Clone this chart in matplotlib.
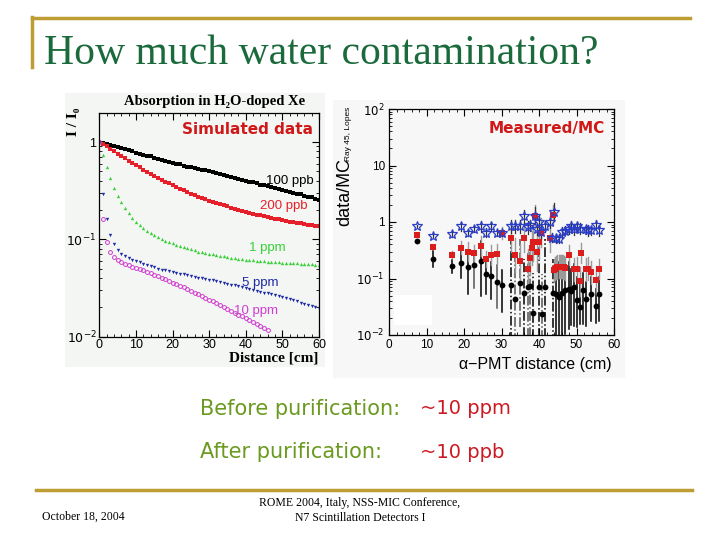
import matplotlib
matplotlib.use("Agg")
import matplotlib.pyplot as plt
from matplotlib.patches import Rectangle
from matplotlib.lines import Line2D
from matplotlib.ticker import FixedLocator, FixedFormatter, MultipleLocator, LogLocator, NullFormatter

# ---------------- data: left panel (simulated absorption) ----------------
dist_cm = list(range(0, 61))
ppb100 = [1.00, 0.98, 0.96, 0.94, 0.92, 0.89, 0.87, 0.85, 0.82, 0.80, 0.78, 0.76, 0.74, 0.72, 0.71,
          0.69, 0.67, 0.66, 0.64, 0.63, 0.61, 0.60, 0.59, 0.57, 0.56, 0.55, 0.54, 0.53, 0.52, 0.51,
          0.50, 0.49, 0.48, 0.47, 0.46, 0.45, 0.44, 0.43, 0.42, 0.41, 0.40, 0.39, 0.385, 0.375, 0.365,
          0.36, 0.35, 0.345, 0.34, 0.33, 0.325, 0.315, 0.31, 0.30, 0.295, 0.29, 0.28, 0.275, 0.27, 0.26, 0.255]
ppb200 = [1.00, 0.95, 0.90, 0.85, 0.80, 0.76, 0.72, 0.68, 0.64, 0.61, 0.58, 0.55, 0.52, 0.495, 0.47,
          0.45, 0.43, 0.41, 0.39, 0.375, 0.36, 0.345, 0.33, 0.32, 0.305, 0.295, 0.285, 0.275, 0.265, 0.257,
          0.25, 0.243, 0.236, 0.23, 0.224, 0.218, 0.212, 0.207, 0.202, 0.197, 0.192, 0.188, 0.184, 0.18, 0.176,
          0.172, 0.169, 0.166, 0.163, 0.16, 0.157, 0.155, 0.152, 0.15, 0.148, 0.146, 0.144, 0.142, 0.14, 0.138, 0.136]
ppm1 = [1.00, 0.73, 0.55, 0.43, 0.34, 0.28, 0.24, 0.21, 0.185, 0.165, 0.15, 0.14, 0.13, 0.122, 0.116,
        0.11, 0.105, 0.101, 0.097, 0.094, 0.091, 0.088, 0.085, 0.083, 0.081, 0.079, 0.077, 0.075, 0.074, 0.072,
        0.071, 0.070, 0.069, 0.068, 0.067, 0.066, 0.065, 0.064, 0.063, 0.0625, 0.062, 0.0615, 0.061, 0.0605, 0.060,
        0.0596, 0.0592, 0.0588, 0.0584, 0.058, 0.0577, 0.0574, 0.0571, 0.0568, 0.0565, 0.0562, 0.0559, 0.0556, 0.0553, 0.055, 0.0548]
ppm5 = [1.00, 0.29, 0.16, 0.11, 0.09, 0.078, 0.071, 0.067, 0.064, 0.062, 0.060, 0.058, 0.056, 0.054, 0.053,
        0.052, 0.050, 0.049, 0.048, 0.047, 0.046, 0.0452, 0.0444, 0.0436, 0.0428, 0.042, 0.0412, 0.0405, 0.0398, 0.0391,
        0.0385, 0.0378, 0.0371, 0.0364, 0.0357, 0.035, 0.0343, 0.0336, 0.033, 0.0323, 0.0316, 0.031, 0.0303, 0.0297, 0.029,
        0.0284, 0.0278, 0.0272, 0.0266, 0.026, 0.0254, 0.0248, 0.0242, 0.0236, 0.023, 0.0224, 0.0218, 0.0213, 0.0208, 0.0203, 0.0198]
dist10 = list(range(0, 47))
ppm10 = [1.00, 0.16, 0.095, 0.075, 0.066, 0.061, 0.058, 0.056, 0.054, 0.052, 0.051, 0.0495, 0.048, 0.0465, 0.045,
         0.0435, 0.042, 0.0405, 0.039, 0.0375, 0.036, 0.0347, 0.0334, 0.0321, 0.0308, 0.0296, 0.0284, 0.0273, 0.0262, 0.0251,
         0.024, 0.023, 0.022, 0.0211, 0.0202, 0.0193, 0.0185, 0.0177, 0.0169, 0.0162, 0.0155, 0.0148, 0.0141, 0.0135, 0.0129,
         0.0123, 0.0118]
curve_labels = ["100 ppb", "200 ppb", "1 ppm", "5 ppm", "10 ppm"]

# ---------------- data: right panel (measured / MC) ----------------
star_x = [7.5, 11.6, 16.9, 19.1, 21.0, 22.7, 24.4, 25.8, 27.2, 28.7, 30.2, 32.6, 33.7, 34.9, 36.0, 37.1, 37.7,
          38.9, 39.4, 40.0, 40.5, 41.6, 42.9, 43.5, 44.0, 44.6, 45.3, 46.0, 47.0, 48.0, 48.6, 49.3, 50.0, 51.0,
          52.4, 53.0, 53.9, 55.3, 56.0]
star_y = [0.86, 0.57, 0.62, 0.84, 0.64, 0.75, 0.84, 0.64, 0.84, 0.64, 0.64, 0.84, 0.84, 0.84, 1.26, 0.80, 0.88,
          1.30, 0.75, 0.98, 0.66, 0.84, 1.00, 0.53, 1.50, 0.52, 0.51, 0.66, 0.70, 0.75, 0.84, 0.75, 0.84, 0.76,
          0.74, 0.71, 0.72, 0.90, 0.72]
star_err = [1.05, 1.08, 1.12, 1.2, 1.15, 1.15, 1.25, 1.2, 1.2, 1.15, 1.15, 1.3, 1.3, 1.3, 1.3, 1.3, 1.25,
            1.4, 1.3, 1.3, 1.3, 1.25, 1.3, 1.2, 1.45, 1.2, 1.2, 1.25, 1.2, 1.2, 1.25, 1.25, 1.2, 1.25,
            1.2, 1.25, 1.2, 1.2, 1.25]

sq_x = [7.5, 11.6, 16.9, 19.1, 21.0, 22.7, 24.4, 25.8, 27.2, 28.7, 30.2, 32.6, 33.7, 34.9, 36.0, 37.1, 37.7,
        38.0, 38.4, 38.9, 39.4, 40.0, 40.5, 42.9, 43.7, 44.0, 44.3, 44.6, 44.9, 45.2, 45.5, 45.8, 46.1, 46.4,
        46.7, 47.0, 48.0, 49.3, 50.0, 51.0, 51.2, 52.4, 53.0, 53.9, 55.3, 56.0]
sq_y = [0.59, 0.36, 0.265, 0.35, 0.30, 0.28, 0.37, 0.22, 0.26, 0.27, 0.64, 0.53, 0.26, 0.20, 0.53, 0.15, 0.23,
        0.35, 0.44, 1.26, 0.30, 0.44, 0.65, 0.53, 1.33, 0.14, 0.15, 0.155, 0.16, 0.162, 0.163, 0.163, 0.162, 0.16,
        0.157, 0.153, 0.26, 0.146, 0.15, 0.09, 0.28, 0.146, 0.15, 0.13, 0.094, 0.15]
sq_err = [1.05, 1.1, 1.15, 1.3, 1.5, 1.4, 1.5, 1.4, 1.5, 1.5, 1.3, 1.8, 2.0, 2.0, 1.8, 2.2, 2.0,
          2.0, 2.2, 1.6, 2.2, 2.0, 1.8, 1.8, 1.5, 1.6, 1.6, 1.6, 1.6, 1.6, 1.6, 1.6, 1.6, 1.6,
          1.6, 1.6, 1.5, 1.6, 1.6, 1.8, 1.5, 1.6, 1.6, 1.6, 1.8, 1.5]

dot_x = [7.5, 11.6, 16.9, 19.1, 21.0, 22.7, 24.4, 25.8, 27.2, 28.7, 30.2, 32.6, 33.7, 34.9, 36.0, 37.1, 37.7,
         38.4, 40.0, 40.7, 41.6, 43.8, 44.6, 45.3, 46.0, 47.0, 48.0, 48.6, 49.3, 50.0, 51.0, 51.6, 52.4, 53.9,
         55.3, 56.0]
dot_y = [0.46, 0.22, 0.166, 0.185, 0.16, 0.17, 0.20, 0.118, 0.11, 0.085, 0.078, 0.078, 0.044, 0.083, 0.055, 0.071,
         0.075, 0.025, 0.071, 0.024, 0.071, 0.055, 0.053, 0.048, 0.055, 0.063, 0.065, 0.060, 0.072, 0.042, 0.031,
         0.063, 0.044, 0.053, 0.032, 0.053]
dot_lo = [1.05, 1.4, 1.3, 1.8, 3.0, 2.5, 4.0, 2.2, 2.5, 2.8, 3.0, 20.0, 6.0, 6.0, 6.0, 8.0, 8.0,
          3.0, 8.0, 3.0, 8.0, 8.0, 6.0, 6.0, 8.0, 6.0, 5.0, 4.0, 5.0, 3.0, 2.0, 4.0, 3.0, 3.0,
          2.0, 3.0]
dot_hi = [1.05, 1.4, 1.3, 1.9, 1.6, 1.8, 2.3, 1.7, 1.8, 2.0, 1.8, 6.0, 6.0, 6.0, 4.0, 4.0, 4.0,
          5.0, 7.0, 5.0, 7.0, 4.0, 4.0, 4.0, 3.5, 3.0, 3.0, 2.5, 2.5, 2.5, 3.0, 2.0, 2.0, 2.0,
          2.0, 2.0]

# ---------------- figure ----------------
W, H = 720, 540
fig = plt.figure(figsize=(7.2, 5.4), dpi=100)
fig.patch.set_facecolor("white")

def P(x, y):
    return x / W, 1 - y / H

GOLD = "#bf9d35"
SERIF = ["Liberation Serif", "DejaVu Serif"]
SANS = ["Liberation Sans", "DejaVu Sans"]

# decorative slide lines
fig.add_artist(Line2D([32 / W, 690 / W], [1 - 18 / H, 1 - 18 / H], color=GOLD, lw=2.5))
fig.add_artist(Line2D([32 / W, 32 / W], [1 - 17 / H, 1 - 67 / H], color=GOLD, lw=2.5))
fig.add_artist(Line2D([36 / W, 692 / W], [1 - 490 / H, 1 - 490 / H], color=GOLD, lw=2.5))

fig.text(*P(44, 64), "How much water contamination?", family=SERIF, fontsize=30,
         color="#1b6a3c", va="baseline", ha="left")

# image backgrounds
fig.add_artist(Rectangle(P(65, 367), 260 / W, 274 / H, transform=fig.transFigure,
                         facecolor="#f3f6f3", edgecolor="none", zorder=0))
fig.add_artist(Rectangle(P(333, 378), 292 / W, 278 / H, transform=fig.transFigure,
                         facecolor="#f7f7f7", edgecolor="none", zorder=0))

# ---------------- left axes ----------------
axL = fig.add_axes([99.3 / W, 1 - 336.7 / H, (319 - 99.3) / W, (336.7 - 112.7) / H])
axL.set_facecolor("none")
axL.set_yscale("log")
axL.set_xlim(0, 60)
axL.set_ylim(0.01, 2.0)

axL.plot(dist_cm, ppb100, ls="none", marker="s", ms=2.2, color="black", mew=0)
axL.plot(dist_cm, ppb200, ls="none", marker="s", ms=3.0, color="#e5202a", mew=0)
axL.plot(dist_cm, ppm1, ls="none", marker="^", ms=2.4, color="#37d037", mew=0)
axL.plot(dist_cm, ppm5, ls="none", marker="v", ms=2.4, color="#1f2aa6", mew=0)
axL.plot(dist10, ppm10, ls="none", marker="o", ms=2.8, mfc="none", mec="#d23cd2", mew=0.7)

label_pos = [(52, 0.40), (50.3, 0.22), (45.8, 0.081), (44, 0.0355), (42.9, 0.0183)]
label_cols = ["black", "#e5202a", "#37d037", "#1f2aa6", "#d23cd2"]
for (lx, ly), lab, c in zip(label_pos, curve_labels, label_cols):
    axL.text(lx, ly, lab, color=c, fontsize=9.5, ha="center", va="center", family=SANS)

axL.yaxis.set_major_locator(FixedLocator([0.01, 0.1, 1]))
axL.yaxis.set_major_formatter(FixedFormatter(["$10^{-2}$", "$10^{-1}$", "1"]))
axL.yaxis.set_minor_locator(LogLocator(base=10, subs=range(2, 10)))
axL.yaxis.set_minor_formatter(NullFormatter())
axL.xaxis.set_major_locator(MultipleLocator(10))
axL.xaxis.set_minor_locator(MultipleLocator(2))
axL.tick_params(which="both", direction="in", top=True, right=True, labelsize=9, pad=2)
axL.tick_params(which="major", length=5, width=0.8)
axL.tick_params(which="minor", length=2.5, width=0.6)
for s in axL.spines.values():
    s.set_linewidth(0.9)
for t in axL.get_xticklabels() + axL.get_yticklabels():
    t.set_family(SANS)

fig.text(*P(215, 101), "Absorption in H₂O-doped Xe", family=SERIF, fontweight="bold",
         fontsize=10.5, ha="center", va="center")
fig.text(*P(73, 122), "I / I₀", family=SERIF, fontweight="bold", fontsize=11,
         rotation=90, ha="center", va="center")
fig.text(*P(318, 358), "Distance [cm]", family=SERIF, fontweight="bold", fontsize=11,
         ha="right", va="center")
fig.text(*P(313, 129), "Simulated data", family=["DejaVu Sans"], fontweight="bold", fontsize=11,
         color="#d01818", ha="right", va="center")

# ---------------- right axes ----------------
axR = fig.add_axes([389 / W, 1 - 335 / H, (614 - 389) / W, (335 - 109) / H])
axR.set_facecolor("none")
axR.set_yscale("log")
axR.set_xlim(0, 60)
axR.set_ylim(0.01, 100)

# white patch in the lower-left corner of the original picture
fig.add_artist(Rectangle(P(394, 325), 38 / W, 30 / H, transform=fig.transFigure,
                         facecolor="white", edgecolor="none", zorder=1))

for x, y, lo, hi in zip(dot_x, dot_y, dot_lo, dot_hi):
    ls = "-." if 32 <= x <= 44 else "-"
    col = "black" if (x < 20 or x > 44) else ("#555555" if int(x * 10) % 2 else "black")
    axR.plot([x, x], [y / lo, y * hi], color=col, lw=1.1, ls=ls, zorder=2)
for x, y, e in zip(sq_x, sq_y, sq_err):
    axR.plot([x, x], [y / e, y * e], color="#9a9a9a", lw=1.0, zorder=2)
for x, y, e in zip(star_x, star_y, star_err):
    axR.plot([x, x], [y / e, y * e], color="#333333", lw=0.9, zorder=2)

axR.plot(dot_x, dot_y, ls="none", marker="o", ms=4.2, color="black", mew=0, zorder=3)
axR.plot(sq_x, sq_y, ls="none", marker="s", ms=4.2, color="#dd1c1c", mew=0, zorder=3)
axR.plot(star_x, star_y, ls="none", marker="*", ms=7, mfc="none", mec="#2b3ec8", mew=0.9, zorder=4)

axR.yaxis.set_major_locator(FixedLocator([0.01, 0.1, 1, 10, 100]))
axR.yaxis.set_major_formatter(FixedFormatter(["$10^{-2}$", "$10^{-1}$", "1", "10", "$10^{2}$"]))
axR.yaxis.set_minor_locator(LogLocator(base=10, subs=range(2, 10)))
axR.yaxis.set_minor_formatter(NullFormatter())
axR.xaxis.set_major_locator(MultipleLocator(10))
axR.xaxis.set_minor_locator(MultipleLocator(2))
axR.tick_params(which="both", direction="in", top=True, right=True, labelsize=8.5, pad=3)
axR.tick_params(which="major", length=5, width=0.8)
axR.tick_params(which="minor", length=2.5, width=0.6)
for s in axR.spines.values():
    s.set_linewidth(0.9)
for t in axR.get_xticklabels() + axR.get_yticklabels():
    t.set_family(SANS)

fig.text(*P(345, 192), "data/MC", family=SANS, fontsize=13,
         rotation=90, ha="center", va="center")
fig.text(*P(349, 134), "Ray 45, Lopes", family=SANS, fontsize=6,
         rotation=90, ha="center", va="center")
fig.text(*P(612, 364), "α−PMT distance (cm)", family=SANS, fontsize=11.5, ha="right", va="center")
fig.text(*P(605, 129), "Measured/MC", family=["DejaVu Sans"], fontweight="bold", fontsize=11,
         color="#d01818", ha="right", va="center")

# ---------------- body text ----------------
OLIVE = "#6a9a1f"
RED = "#cc1a22"
fig.text(*P(200, 409), "Before purification:", family=["DejaVu Sans"], fontsize=15,
         color=OLIVE, ha="left", va="center")
fig.text(*P(420, 409), "~10 ppm", family=["DejaVu Sans"], fontsize=14,
         color=RED, ha="left", va="center")
fig.text(*P(200, 452), "After purification:", family=["DejaVu Sans"], fontsize=15,
         color=OLIVE, ha="left", va="center")
fig.text(*P(420, 452), "~10 ppb", family=["DejaVu Sans"], fontsize=14,
         color=RED, ha="left", va="center")

# ---------------- footer ----------------
fig.text(*P(42, 517), "October 18, 2004", family=SERIF, fontsize=8.5, ha="left", va="center")
fig.text(*P(360, 503), "ROME 2004, Italy, NSS-MIC Conference,", family=SERIF, fontsize=8.5,
         ha="center", va="center")
fig.text(*P(360, 518), "N7 Scintillation Detectors I", family=SERIF, fontsize=8.5,
         ha="center", va="center")

fig.savefig("out.png", dpi=100)
